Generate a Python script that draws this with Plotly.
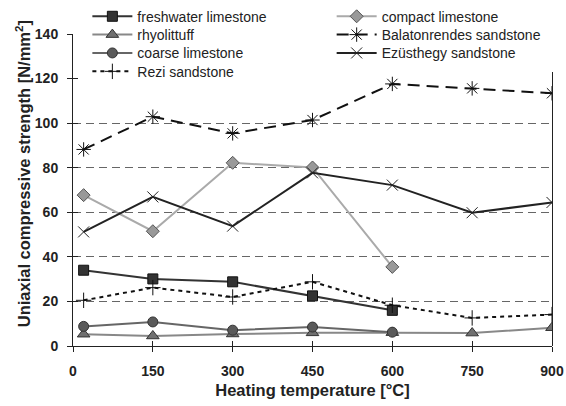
import plotly.graph_objects as go

temps = [20, 150, 300, 450, 600, 750, 900]
temps5 = [20, 150, 300, 450, 600]

freshwater = [34.0, 30.1, 28.8, 22.5, 16.0]
compact = [67.7, 51.5, 82.2, 80.1, 35.5]
rhyolittuff = [5.3, 4.5, 5.4, 5.9, 6.0, 5.8, 8.2]
balatonrendes = [88.2, 102.9, 95.4, 101.4, 117.6, 115.6, 113.4]
coarse = [8.8, 10.8, 7.1, 8.5, 6.2]
ezusthegy = [51.2, 66.9, 53.8, 77.7, 72.2, 59.8, 64.4]
rezi = [20.5, 26.2, 22.0, 28.8, 18.3, 12.6, 14.1]

xticks = [0, 150, 300, 450, 600, 750, 900]
yticks = [0, 20, 40, 60, 80, 100, 120, 140]
grid_vals = [20, 40, 60, 80, 100]

F = "Liberation Sans, Arial, sans-serif"
TXT = "#222222"

fig = go.Figure()

# helper traces so overlay axes render (right border, dashed grid, inside ticks)
fig.add_trace(go.Scatter(x=[None], y=[None], xaxis="x", yaxis="y4", showlegend=False, hoverinfo="skip"))
fig.add_trace(go.Scatter(x=[None], y=[None], xaxis="x", yaxis="y3", showlegend=False, hoverinfo="skip"))
fig.add_trace(go.Scatter(x=[None], y=[None], xaxis="x2", yaxis="y2", showlegend=False, hoverinfo="skip"))

fig.add_trace(go.Scatter(x=temps5, y=freshwater, name="freshwater limestone", mode="lines+markers", legend="legend",
                         line=dict(color="#333333", width=2),
                         marker=dict(symbol="square", size=10, color="#333333", line=dict(color="#111111", width=1))))
fig.add_trace(go.Scatter(x=temps5, y=compact, name="compact limestone", mode="lines+markers", legend="legend2",
                         line=dict(color="#aaaaaa", width=2),
                         marker=dict(symbol="diamond", size=10, color="#999999", line=dict(color="#555555", width=1))))
fig.add_trace(go.Scatter(x=temps, y=rhyolittuff, name="rhyolittuff", mode="lines+markers", legend="legend3",
                         line=dict(color="#888888", width=2),
                         marker=dict(symbol="triangle-up", size=11, color="#707070", line=dict(color="#333333", width=1))))
fig.add_trace(go.Scatter(x=temps, y=balatonrendes, name="Balatonrendes sandstone", mode="lines+markers", legend="legend4",
                         line=dict(color="#111111", width=2, dash="12px,7px"),
                         marker=dict(symbol="asterisk-open", size=12, color="#111111", line=dict(color="#111111", width=1))))
fig.add_trace(go.Scatter(x=temps5, y=coarse, name="coarse limestone", mode="lines+markers", legend="legend5",
                         line=dict(color="#666666", width=2),
                         marker=dict(symbol="circle", size=10, color="#5a5a5a", line=dict(color="#333333", width=1))))
fig.add_trace(go.Scatter(x=temps, y=ezusthegy, name="Ezüsthegy sandstone", mode="lines+markers", legend="legend6",
                         line=dict(color="#222222", width=2),
                         marker=dict(symbol="x-thin-open", size=11, color="#222222", line=dict(color="#222222", width=1))))
fig.add_trace(go.Scatter(x=temps, y=rezi, name="Rezi sandstone", mode="lines+markers", legend="legend7",
                         line=dict(color="#111111", width=2, dash="4px,4px"),
                         marker=dict(symbol="cross-thin-open", size=11, color="#111111", line=dict(color="#111111", width=1))))

ax_common = dict(showline=True, linecolor="#222222", linewidth=1, zeroline=False)
tickfont = dict(size=14, family=F, color=TXT, weight="bold")


def leg(x, y):
    return dict(x=x, y=y, xanchor="left", yanchor="middle", bgcolor="rgba(0,0,0,0)", borderwidth=0,
                font=dict(size=14, family=F, color=TXT), itemwidth=40)


c1, c2 = 0.03, 0.54
r1, r2, r3, r4 = 1.0555, 0.9968, 0.938, 0.879

fig.update_layout(
    width=566, height=406,
    margin=dict(l=73, r=14, t=34, b=60, autoexpand=False),
    paper_bgcolor="white", plot_bgcolor="rgba(0,0,0,0)",
    font=dict(family=F, color=TXT),
    xaxis=dict(range=[0, 900], tickvals=xticks, ticks="outside", ticklen=5, tickcolor="#222222",
               showgrid=False, tickfont=tickfont, ticklabelstandoff=7,
               title=dict(text="<b>Heating temperature [°C]</b>", font=dict(size=16.5, family=F, color=TXT), standoff=6),
               **ax_common),
    yaxis=dict(range=[0, 140], tickvals=yticks, ticks="outside", ticklen=5, tickcolor="#222222",
               showgrid=False, tickfont=tickfont, ticklabelstandoff=6, **ax_common),
    xaxis2=dict(range=[0, 900], tickvals=xticks, ticks="inside", ticklen=5, tickcolor="#222222",
                showticklabels=False, showgrid=False, overlaying="x", anchor="y2", showline=False, zeroline=False),
    yaxis2=dict(range=[0, 140], tickvals=yticks, ticks="inside", ticklen=5, tickcolor="#222222",
                showticklabels=False, showgrid=False, overlaying="y", anchor="x2", showline=False, zeroline=False),
    yaxis3=dict(range=[0, 140], tickvals=grid_vals, ticks="", showticklabels=False, showgrid=True,
                gridcolor="#666666", griddash="8px,5px", gridwidth=1, overlaying="y", showline=False, zeroline=False),
    yaxis4=dict(domain=[0, 0.879], anchor="x", side="right", showline=True, linecolor="#222222", linewidth=1,
                ticks="", showticklabels=False, showgrid=False, zeroline=False, range=[0, 1]),
    legend=leg(c1, r1),
    legend2=leg(c2, r1),
    legend3=leg(c1, r2),
    legend4=leg(c2, r2),
    legend5=leg(c1, r3),
    legend6=leg(c2, r3),
    legend7=leg(c1, r4),
    annotations=[dict(text="<b>Uniaxial compressive strength [N/mm<sup>2</sup>]</b>", textangle=-90,
                      xref="paper", yref="paper", x=-0.104, y=0.551, xanchor="center", yanchor="middle",
                      showarrow=False, font=dict(size=16.5, family=F, color=TXT))],
)

fig.write_html("out.html")
